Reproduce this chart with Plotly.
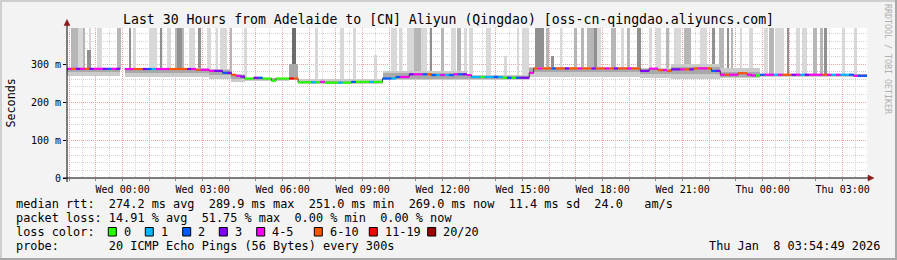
import plotly.graph_objects as go
from datetime import datetime, timedelta

# ---------------- data ----------------
START = datetime(2026, 1, 6, 21, 54, 49)   # 30 h window ending Thu Jan 8 03:54:49
SPAN_H = 30
BIN_H = 1 / 6                              # 10-minute bins

MEDIAN_MS = [
    287.5, 287.5, 287.5, 287.5, 287.5, 287.5, 287.5, 287.5, 287.5, 287.5, 287.5, 287.5,
    None,
    287, 287, 287, 287, 287, 287, 287, 287, 287, 287, 287, 287, 287, 287, 287, 287,
    285, 285, 285, 282, 282, 282, 277, 277, 272, 269, 267,
    262, 262, 264, 264, 262, 262, 256, 262, 262, 262, 262, 262,
    252, 252, 252, 252, 252, 253, 251, 251, 251, 251, 251, 251,
    253, 253, 253, 253, 253, 253, 253,
    262, 262, 262, 266, 266, 266, 273, 273, 273, 273, 273,
    271, 271, 271, 271, 271, 273, 273, 273, 271,
    266, 266, 266, 266, 266, 266, 266, 264, 264, 264, 264, 264, 264, 277,
    288.5, 288.5, 288.5, 288.5, 288.5, 288.5, 288.5, 288.5, 288.5, 288.5, 288.5, 288.5,
    288.5, 288.5, 288.5, 288.5, 288.5, 288.5, 288.5, 288.5, 288.5, 288.5, 288.5, 288.5,
    282, 282, 288, 288, 284, 284, 282,
    286, 286, 286, 286, 286, 288.5, 288.5, 288.5, 288.5, 282, 282,
    272, 272, 272, 272, 276, 276, 272, 270, 270,
    272, 272, 272, 272, 272, 272, 272, 272, 272, 272, 272, 272, 272, 272, 272, 272,
    272, 272, 272, 272, 272, 269, 269, 269,
]

LOSS_CLASS = [
    4, 5, 3, 4, 5, 3, 4, 4, 3, 2, 4, 3, 0, 4, 4, 5, 5, 3, 2, 1,
    4, 4, 4, 5, 5, 5, 5, 3, 4, 5, 4, 4, 4, 3, 3, 2, 3, 5, 4, 3,
    0, 0, 3, 2, 0, 0, 0, 0, 0, 0, 6, 5, 0, 0, 0, 1, 0, 4, 0, 0,
    0, 1, 0, 0, 2, 0, 0, 0, 1, 0, 0, 2, 2, 1, 2, 4, 4, 3, 4, 4,
    2, 5, 2, 1, 4, 1, 2, 4, 2, 3, 4, 1, 1, 0, 1, 1, 2, 1, 0, 2,
    0, 2, 3, 3, 4, 5, 4, 5, 5, 2, 5, 5, 3, 5, 5, 4, 5, 5, 3, 5,
    5, 4, 5, 3, 5, 5, 4, 5, 5, 3, 3, 4, 4, 5, 4, 5, 3, 3, 4, 5,
    3, 5, 4, 4, 5, 2, 3, 4, 5, 4, 4, 5, 5, 4, 4, 0, 2, 4, 4, 1,
    4, 5, 5, 3, 4, 1, 3, 4, 4, 4, 5, 4, 1, 4, 1, 1, 2, 4, 2, 2,
]

LOSS_LABELS = ["0", "1", "2", "3", "4-5", "6-10", "11-19", "20/20"]
LOSS_COLORS = ["#26ff00", "#00b8ff", "#0059ff", "#7e00ff",
               "#ff00f5", "#ff5500", "#ff0000", "#a10000"]

# smoke band around the median (hours, ms)
BAND_T0 = [0.0, 2.167, 5.333, 6.167, 6.667, 8.333, 8.667, 11.833, 15.0, 17.333, 21.5, 22.667, 24.5, 26.0]
BAND_T1 = [2.0, 5.333, 6.167, 6.667, 8.333, 8.667, 11.833, 15.0, 17.333, 21.5, 22.667, 24.5, 26.0, 30.0]
BAND_OUT_LO = [268, 265, 262, 254, 256, 258, 247, 258, 258, 266, 264, 262, 263, 267]
BAND_OUT_HI = [290, 289, 286, 274, 264, 300, 262, 282, 272, 292, 290, 300, 290, 275]
BAND_IN_LO = [278, 277, 272, 262, 259, 260, 250, 262, 261, 279, 275, 274, 267, 270]
BAND_IN_HI = [289, 288, 284, 271, 263, 300, 256, 276, 268, 290, 287, 292, 280, 273]

# tall smoke spikes (hours, ms, shade 0=light .. 3=very dark)
SPIKE_T0 = [0.14, 0.41, 0.60, 0.83, 0.74, 1.14, 1.89, 2.31, 2.51, 3.08, 3.49, 3.76, 4.04, 4.11,
            4.58, 4.91, 5.26, 5.58, 5.74, 6.11, 6.64, 8.45, 9.29, 10.24, 10.74, 11.51, 12.14,
            12.45, 12.76, 13.01, 13.26, 13.61, 14.01, 14.39, 14.64, 14.89, 15.08, 15.70, 16.39,
            16.88, 17.06, 17.54, 17.95, 18.15, 18.51, 19.01, 19.28, 19.51, 19.76, 19.89, 20.39,
            20.76, 20.99, 21.39, 21.83, 22.08, 22.45, 22.76, 23.14, 23.74, 24.20, 24.45, 24.74,
            24.89, 25.24, 25.58, 26.14, 26.33, 26.54, 26.99, 27.33, 27.57, 27.99, 28.24, 28.39,
            29.07, 29.51]
SPIKE_T1 = [0.41, 0.60, 0.66, 0.91, 0.89, 1.32, 2.04, 2.39, 2.58, 3.39, 3.57, 3.89, 4.39, 4.32,
            4.79, 5.01, 5.39, 5.66, 6.01, 6.20, 6.74, 8.58, 9.41, 10.39, 10.83, 11.64, 12.39,
            12.57, 13.01, 13.26, 13.51, 13.70, 14.14, 14.58, 14.76, 15.00, 15.23, 15.89, 16.50,
            16.95, 17.33, 17.89, 18.08, 18.26, 18.57, 19.13, 19.39, 19.83, 19.86, 20.01, 20.58,
            20.89, 21.11, 21.51, 21.95, 22.26, 22.58, 23.01, 23.39, 24.01, 24.29, 24.64, 24.83,
            24.98, 25.32, 25.74, 26.29, 26.51, 26.89, 27.08, 27.49, 27.74, 28.14, 28.36, 28.51,
            29.16, 29.64]
SPIKE_TOP = [395, 395, 395, 395, 337, 395, 395, 395, 395, 395, 395, 395, 395, 395,
             395, 395, 395, 395, 395, 395, 395, 395, 395, 395, 395, 324, 395,
             395, 395, 395, 395, 395, 395, 395, 395, 395, 395, 395, 322,
             395, 395, 395, 395, 322, 395, 395, 395, 395, 395, 395, 395,
             395, 395, 395, 395, 395, 395, 395, 395, 395, 395, 395, 395,
             395, 395, 395, 395, 395, 395, 395, 395, 395, 395, 395, 395,
             395, 395]
SPIKE_SHADE = [1, 0, 1, 0, 2, 0, 1, 2, 0, 0, 2, 0, 1, 2,
               0, 2, 0, 0, 0, 1, 0, 3, 0, 0, 0, 0, 0,
               0, 0, 1, 0, 2, 1, 0, 1, 0, 0, 0, 0,
               0, 0, 2, 1, 2, 0, 1, 1, 1, 2, 0, 1,
               0, 1, 2, 0, 0, 1, 0, 1, 0, 2, 1, 2,
               1, 0, 0, 0, 1, 0, 2, 0, 0, 1, 1, 2,
               0, 0]
SHADE_COLORS = ["#d8d8d8", "#b6b6b6", "#909090", "#6c6c6c"]

Y_TICKS = [0, 100, 200, 300]
Y_TICK_TEXT = ["0", "100 m", "200 m", "300 m"]
Y_MAX = 395

TITLE = "Last 30 Hours from Adelaide to [CN] Aliyun (Qingdao) [oss-cn-qingdao.aliyuncs.com]"
LEGEND_LINES = [
    "median rtt:  274.2 ms avg  289.9 ms max  251.0 ms min  269.0 ms now  11.4 ms sd  24.0   am/s",
    "packet loss: 14.91 % avg  51.75 % max  0.00 % min  0.00 % now",
    "loss color:",
    "probe:       20 ICMP Echo Pings (56 Bytes) every 300s",
]
STAMP = "Thu Jan  8 03:54:49 2026"
SIDE = "RRDTOOL / TOBI OETIKER"

# ---------------- layout helpers ----------------
W, H = 897, 260
PL, PR, PT, PB = 67, 867, 28, 178
MONO = "DejaVu Sans Mono"


def px(x):
    return (x - PL) / (PR - PL)


def py(y):
    return (PB - y) / (PB - PT)


def nb(s):
    return s.replace(" ", "\u00a0")


fig = go.Figure()

nbins = len(MEDIAN_MS)


def median_at(t):
    i = min(int(t / BIN_H), nbins - 1)
    while i >= 0 and MEDIAN_MS[i] is None:
        i -= 1
    return MEDIAN_MS[i]


# spikes (lightest first)
for shade in range(4):
    xs, ws, bs, hs = [], [], [], []
    for t0, t1, top, sh in zip(SPIKE_T0, SPIKE_T1, SPIKE_TOP, SPIKE_SHADE):
        if sh != shade:
            continue
        base = median_at((t0 + t1) / 2)
        xs.append((t0 + t1) / 2)
        ws.append(t1 - t0)
        bs.append(base)
        hs.append(top - base)
    fig.add_trace(go.Bar(x=xs, y=hs, base=bs, width=ws, marker_color=SHADE_COLORS[shade],
                         marker_line_width=0, opacity=1, hoverinfo="skip", showlegend=False))

# band
for lo, hi, col in ((BAND_OUT_LO, BAND_OUT_HI, "#cbcbcb"), (BAND_IN_LO, BAND_IN_HI, "#a9a9a9")):
    fig.add_trace(go.Bar(
        x=[(a + b) / 2 for a, b in zip(BAND_T0, BAND_T1)],
        width=[b - a for a, b in zip(BAND_T0, BAND_T1)],
        base=lo, y=[h - l for l, h in zip(lo, hi)],
        marker_color=col, marker_line_width=0, opacity=1,
        hoverinfo="skip", showlegend=False))

# median step (thin dark connector)
edges = [i * BIN_H for i in range(nbins)]
fig.add_trace(go.Scatter(x=edges + [SPAN_H], y=MEDIAN_MS + [MEDIAN_MS[-1]], mode="lines",
                         line=dict(color="#333333", width=1, shape="hv"),
                         connectgaps=False, hoverinfo="skip", showlegend=False))

# median colored by loss
for c, col in enumerate(LOSS_COLORS):
    xs, ys = [], []
    for i, (v, lc) in enumerate(zip(MEDIAN_MS, LOSS_CLASS)):
        if v is None or lc != c:
            continue
        xs += [i * BIN_H, (i + 1) * BIN_H, None]
        ys += [v, v, None]
    if xs:
        fig.add_trace(go.Scatter(x=xs, y=ys, mode="lines", line=dict(color=col, width=2.2),
                                 hoverinfo="skip", showlegend=False))

# x ticks from clock time
first = (START.replace(minute=0, second=0) + timedelta(hours=1))
tickvals, ticktext = [], []
t = first
while t <= START + timedelta(hours=SPAN_H):
    off = (t - START).total_seconds() / 3600
    tickvals.append(off)
    ticktext.append(t.strftime("%a %H:%M") if t.hour % 3 == 0 else "\u00a0")
    t += timedelta(hours=1)

grid_red = "#f2a0a0"
grid_grey = "#d4d4d4"

fig.update_xaxes(range=[0, SPAN_H], tickmode="array", tickvals=tickvals, ticktext=ticktext,
                 tickangle=0,
                 showgrid=True, gridcolor=grid_red, griddash="1px,1px", gridwidth=1,
                 ticks="outside", ticklen=2, tickcolor="#888888",
                 tickfont=dict(family=MONO, size=10, color="#000"),
                 minor=dict(tick0=tickvals[0] + 0.5, dtick=1, showgrid=True, gridcolor=grid_grey,
                            griddash="1px,1px", ticks=""),
                 zeroline=False, showline=False, fixedrange=True)
fig.update_yaxes(range=[0, Y_MAX], tickmode="array", tickvals=Y_TICKS, ticktext=Y_TICK_TEXT,
                 showgrid=True, gridcolor=grid_red, griddash="1px,1px",
                 ticks="outside", ticklen=3, tickcolor="#000",
                 tickfont=dict(family=MONO, size=10, color="#000"),
                 minor=dict(dtick=20, showgrid=True, gridcolor=grid_grey, griddash="1px,1px", ticks=""),
                 zeroline=False, showline=False, fixedrange=True)

shapes = [
    # frame bevel
    dict(type="rect", xref="paper", yref="paper", x0=px(0), x1=px(W), y0=py(0), y1=py(2),
         fillcolor="#cfcfcf", line_width=0, layer="below"),
    dict(type="rect", xref="paper", yref="paper", x0=px(0), x1=px(2), y0=py(0), y1=py(H),
         fillcolor="#cfcfcf", line_width=0, layer="below"),
    dict(type="rect", xref="paper", yref="paper", x0=px(0), x1=px(W), y0=py(H - 2), y1=py(H),
         fillcolor="#a8a8a8", line_width=0, layer="below"),
    dict(type="rect", xref="paper", yref="paper", x0=px(W - 2), x1=px(W), y0=py(0), y1=py(H),
         fillcolor="#a8a8a8", line_width=0, layer="below"),
    # axes
    dict(type="line", xref="paper", yref="paper", x0=px(63), x1=px(870), y0=py(178), y1=py(178),
         line=dict(color="#000", width=1), layer="above"),
    dict(type="line", xref="paper", yref="paper", x0=px(67), x1=px(67), y0=py(182), y1=py(23),
         line=dict(color="#000", width=1), layer="above"),
    dict(type="path", xref="paper", yref="paper",
         path=f"M {px(64)} {py(25.5)} L {px(70)} {py(25.5)} L {px(67)} {py(19.5)} Z",
         fillcolor="#8b1a1a", line=dict(color="#8b1a1a", width=0.5), layer="above"),
    dict(type="path", xref="paper", yref="paper",
         path=f"M {px(868)} {py(175)} L {px(868)} {py(181)} L {px(874)} {py(178)} Z",
         fillcolor="#8b1a1a", line=dict(color="#8b1a1a", width=0.5), layer="above"),
]

annotations = [
    dict(text=nb(TITLE), x=px(448), y=py(19.5), font=dict(family=MONO, size=13.2, color="#000")),
    dict(text="Seconds", x=px(10.5), y=py(103), textangle=-90,
         font=dict(family=MONO, size=11.7, color="#000")),
    dict(text=nb(SIDE), x=px(888), y=py(59), textangle=90,
         font=dict(family=MONO, size=8.3, color="#b0b0b0")),
    dict(text=nb(STAMP), x=px(880.5), y=py(246.3), xanchor="right",
         font=dict(family=MONO, size=11.86, color="#000")),
]
for line, yy in zip(LEGEND_LINES, [204, 218.3, 232.3, 246.3]):
    annotations.append(dict(text=nb(line), x=px(14.5), y=py(yy), xanchor="left",
                            font=dict(family=MONO, size=11.86, color="#000")))

BOX_X = [108.3, 145.3, 182.7, 219.3, 256.7, 314.3, 369.3, 427.7]
for bx, lab, col in zip(BOX_X, LOSS_LABELS, LOSS_COLORS):
    shapes.append(dict(type="rect", xref="paper", yref="paper", x0=px(bx), x1=px(bx + 8),
                       y0=py(236), y1=py(227.5), fillcolor=col,
                       line=dict(color="#000", width=1), layer="above"))
    annotations.append(dict(text=nb(lab), x=px(bx + 14.5), y=py(232.3), xanchor="left",
                            font=dict(family=MONO, size=11.86, color="#000")))

for a in annotations:
    a.setdefault("xanchor", "center")
    a.update(xref="paper", yref="paper", yanchor="middle", showarrow=False, borderpad=0)

fig.update_layout(width=W, height=H, autosize=False,
                  margin=dict(l=PL, r=W - PR, t=PT, b=H - PB, pad=0),
                  paper_bgcolor="#f3f3f3", plot_bgcolor="#ffffff",
                  barmode="overlay", bargap=0, showlegend=False,
                  shapes=shapes, annotations=annotations)

fig.write_html("out.html", config={"displayModeBar": False})
